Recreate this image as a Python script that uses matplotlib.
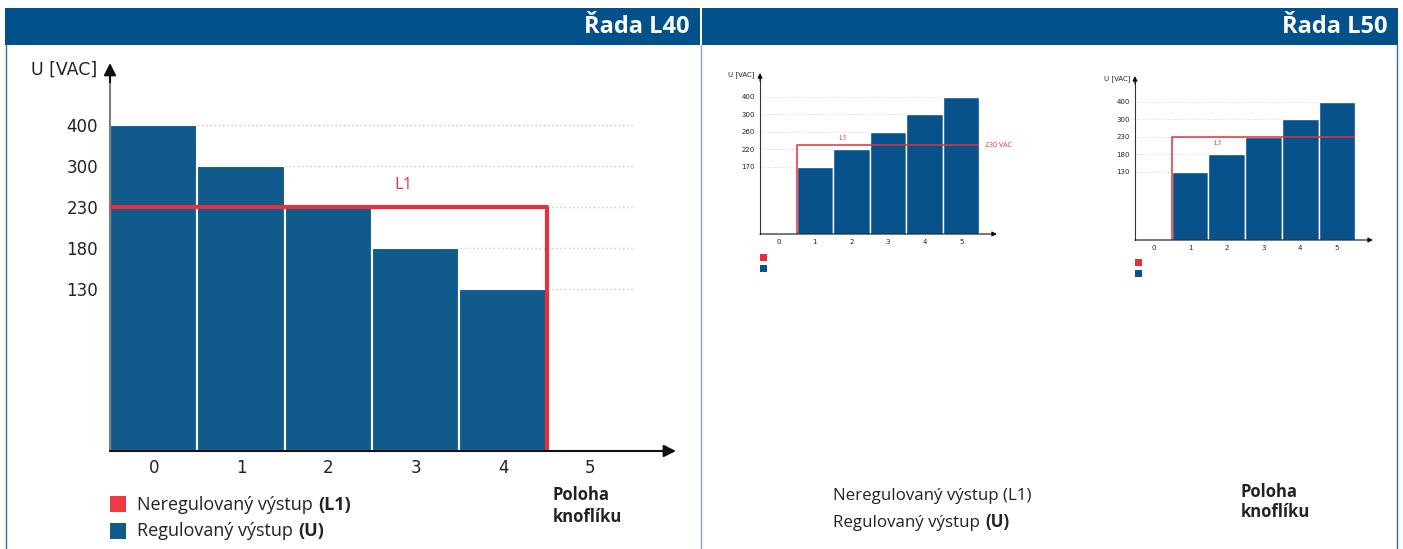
import numpy as np
import matplotlib.pyplot as plt
from matplotlib.patches import Rectangle

W, H = 1403, 549

# ---- data ----
knob_positions = [0, 1, 2, 3, 4, 5]

l40_positions = [0, 1, 2, 3, 4]
l40_u = [400, 300, 230, 180, 130]
l40_ticks = [130, 180, 230, 300, 400]
l40_l1_on = [0, 1, 2, 3, 4]

l50a_positions = [1, 2, 3, 4, 5]
l50a_u = [170, 220, 260, 300, 400]
l50a_ticks = [170, 220, 260, 300, 400]
l50a_l1_on = [1, 2, 3, 4, 5]

l50b_positions = [1, 2, 3, 4, 5]
l50b_u = [130, 180, 230, 300, 400]
l50b_ticks = [130, 180, 230, 300, 400]
l50b_l1_on = [1, 2, 3, 4, 5]

l1_voltage = 230

HEAD = "#02518a"
BLUE = "#115b8c"
BLUE2 = "#07528a"
RED = "#e8303a"
TXT = "#222222"
BODY = ["Open Sans", "DejaVu Sans"]

fig = plt.figure(figsize=(W / 100, H / 100), dpi=100)


def px_rect(x0, y0, x1, y1):
    return [x0 / W, 1 - y1 / H, (x1 - x0) / W, (y1 - y0) / H]


def ftext(x, y, s, **kw):
    return fig.text(x / W, 1 - y / H, s, **kw)


def fbox(x0, y0, x1, y1, color):
    fig.add_artist(Rectangle((x0 / W, 1 - y1 / H), (x1 - x0) / W, (y1 - y0) / H,
                             transform=fig.transFigure, color=color, lw=0))


def fline(x0, y0, x1, y1, color, lw=1):
    fig.add_artist(plt.Line2D([x0 / W, x1 / W], [1 - y0 / H, 1 - y1 / H],
                              transform=fig.transFigure, color=color, lw=lw))


def make_scale(ticks, first_row):
    # each tick level sits on its own evenly spaced row
    vals = [0] + list(ticks) + [ticks[-1] + 1000]
    rows = [0] + [first_row + i for i in range(len(ticks))] + [first_row + len(ticks) - 1 + 10]
    return (lambda v: np.interp(v, vals, rows)), (lambda r: np.interp(r, rows, vals))


def chart(rect, xs, us, ticks, l1_on, first_row, row_px, big):
    ax = fig.add_axes(px_rect(*rect))
    fwd, inv = make_scale(ticks, first_row)
    ax.set_yscale("function", functions=(fwd, inv))
    ax.set_ylim(0, float(inv((rect[3] - rect[1]) / row_px)))
    ax.set_xlim(-0.5, 5.98)
    for s in ax.spines.values():
        s.set_visible(False)

    ax.hlines(ticks, -0.5, 5.5, colors="#c8c8c8", linestyles=(0, (1, 2)),
              lw=1 if big else 0.6, zorder=1)
    ax.bar(xs, us, width=1.0, color=BLUE if big else BLUE2, edgecolor="white",
           lw=1.5 if big else 1.0, zorder=2)

    lo, hi = min(l1_on) - 0.5, max(l1_on) + 0.5
    if lo > -0.5:
        lx, ly = [lo, lo, hi], [0, l1_voltage, l1_voltage]
    else:
        lx, ly = [lo, hi, hi], [l1_voltage, l1_voltage, 0]
    ax.plot(lx, ly, color=RED, lw=3 if big else 1.3, zorder=3,
            alpha=1 if big else 0.85, solid_capstyle="butt", clip_on=False)

    fs_tick = 12 if big else 5
    ax.set_yticks(ticks)
    ax.set_yticklabels([str(t) for t in ticks], fontsize=fs_tick, color=TXT)
    ax.set_xticks(knob_positions)
    ax.set_xticklabels([str(p) for p in knob_positions], fontsize=fs_tick, color=TXT)
    ax.tick_params(axis="y", length=0, pad=8.5 if big else 3.5)
    ax.tick_params(axis="x", length=0, pad=6 if big else 3.5)

    # axis arrows
    lw = 1.5 if big else 0.8
    ms = 18 if big else 7
    ax.annotate("", xy=(1, 0), xytext=(0, 0), xycoords="axes fraction",
                arrowprops=dict(arrowstyle="-|>", color="#111111", lw=lw,
                                mutation_scale=ms, shrinkA=0, shrinkB=0))
    ax.plot([0, 0], [0, 0.97], transform=ax.transAxes, color="#808080" if big else "#333333",
            lw=lw, clip_on=False)
    ax.annotate("", xy=(0, 1), xytext=(0, 0.95), xycoords="axes fraction",
                arrowprops=dict(arrowstyle="-|>", color="#111111", lw=lw,
                                mutation_scale=ms, shrinkA=0, shrinkB=0))
    return ax


def mixed(ax, x, y, plain, bold, fs):
    t = ftext(x, y, plain, va="center", fontsize=fs, color=TXT, family=BODY)
    ax.annotate(bold, xy=(1, 0), xycoords=t, xytext=(fs * 0.3, 0), textcoords="offset points",
                va="bottom", ha="left", fontsize=fs, fontweight="bold", color=TXT, family=BODY)


# ---- headers and panel frames ----
fbox(5, 8, 700, 45, HEAD)
fbox(702, 8, 1398, 45, HEAD)
ftext(690, 27, "Řada L40", color="white", fontsize=17, fontweight="bold",
      ha="right", va="center", family=BODY)
ftext(1388, 27, "Řada L50", color="white", fontsize=17, fontweight="bold",
      ha="right", va="center", family=BODY)
fline(5.5, 45, 5.5, 549, "#2f6c9c")
fline(701, 45, 701, 549, "#8ea6bd")
fline(1397, 45, 1397, 549, "#2f6c9c")

# ---- Řada L40 ----
ax1 = chart((110, 63, 676, 451), l40_positions, l40_u, l40_ticks, l40_l1_on, 3.95, 41, True)
ax1.annotate("L1", xy=(2.86, l1_voltage), xytext=(0, 10), textcoords="offset points",
             ha="center", va="bottom", color=RED, fontsize=12, family=BODY)
ftext(97, 70, "U [VAC]", ha="right", va="center", fontsize=12.5, color=TXT)

fbox(110, 496, 126, 512, "#ee3a43")
fbox(110, 523, 126, 539, BLUE)
mixed(ax1, 137, 505, "Neregulovaný výstup", "(L1)", 13)
mixed(ax1, 137, 531, "Regulovaný výstup", "(U)", 13)
ftext(553, 506, "Poloha\nknoflíku", fontsize=12, fontweight="bold", color=TXT,
      va="center", ha="left", linespacing=1.25, family=BODY)

# ---- Řada L50 ----
ax2 = chart((760, 73, 997, 234), l50a_positions, l50a_u, l50a_ticks, l50a_l1_on, 3.83, 17.5, False)
ax2.annotate("L1", xy=(1.76, l1_voltage), xytext=(0, 2), textcoords="offset points",
             ha="center", va="bottom", color=RED, fontsize=6, family=BODY)
ax2.annotate("230 VAC", xy=(5.64, l1_voltage), ha="left", va="center", color=RED,
             fontsize=5, family=BODY, annotation_clip=False)
ftext(755, 75, "U [VAC]", ha="right", va="center", fontsize=5, color=TXT)
fbox(760, 254, 767, 261, RED)
fbox(760, 265, 767, 272, BLUE2)

ax3 = chart((1135, 76, 1373, 240), l50b_positions, l50b_u, l50b_ticks, l50b_l1_on, 3.89, 17.5, False)
ax3.annotate("L1", xy=(1.74, l1_voltage), xytext=(0, -2), textcoords="offset points",
             ha="center", va="top", color=RED, fontsize=6, family=BODY)
ftext(1130, 79, "U [VAC]", ha="right", va="center", fontsize=5, color=TXT)
fbox(1135, 259, 1142, 266, RED)
fbox(1135, 270, 1142, 277, BLUE2)

ftext(833, 496, "Neregulovaný výstup (L1)", va="center", fontsize=12.2, color=TXT, family=BODY)
mixed(ax3, 833, 523, "Regulovaný výstup", "(U)", 12.2)
ftext(1241, 502, "Poloha\nknoflíku", fontsize=12, fontweight="bold", color=TXT,
      va="center", ha="left", linespacing=1.2, family=BODY)

fig.savefig("out.png", dpi=100)
